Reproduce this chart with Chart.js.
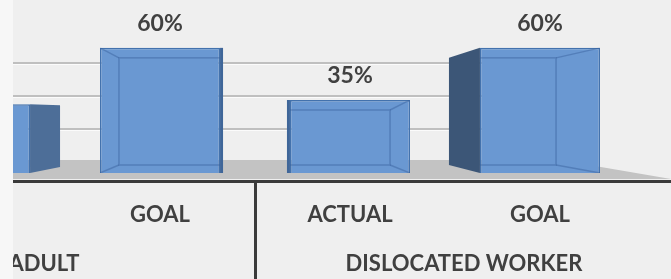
<!DOCTYPE html>
<html>
<head>
<meta charset="utf-8">
<script src="https://cdn.jsdelivr.net/npm/chart.js@4"></script>
<style>
  html, body { margin: 0; padding: 0; background: #efefef; overflow: hidden; }
  body { width: 671px; height: 279px; position: relative; }
  #chart { position: absolute; left: -125px; top: 0; }
  #edge { position: absolute; left: 0; top: 0; width: 13px; height: 279px; background: #f7f7f7; }
</style>
</head>
<body>
<canvas id="chart" width="796" height="279"></canvas>
<div id="edge"></div>
<script>
const categories = ['ACTUAL', 'GOAL', 'ACTUAL', 'GOAL'];
const groups = ['ADULT', 'DISLOCATED WORKER'];
const values = [33, 60, 35, 60];
const wallTicks = [20, 40, 60];

// fake 3d look, per bar
const sideDepth = [30, 3, -3, -31];
const sideTop = [1, 0, 0, 10];
const sideBottom = [6, 0, 0, 8];
const sideColor = ['#4d6e98', '#3f6699', '#3f6699', '#3c5677'];
const innerShift = [0, 19, -20, -44];

const OFFSET = 125; // canvas is shifted left, first bar is cut

const textColor = '#404040';
const fontFamily = 'Lato, "Open Sans", sans-serif';

const wallAndFloor = {
  id: 'wallAndFloor',
  beforeDatasetsDraw(chart) {
    const ctx = chart.ctx;
    const yb = chart.scales.yb;
    const area = chart.chartArea;
    const wallRight = 560 + OFFSET;
    ctx.save();
    wallTicks.forEach(v => {
      const py = Math.round(yb.getPixelForValue(v));
      ctx.fillStyle = '#bfbfbf';
      ctx.fillRect(0, py - 1, wallRight, 2);
      ctx.fillStyle = '#fbfbfb';
      ctx.fillRect(0, py + 1, wallRight, 1);
    });
    // floor
    const back = yb.getPixelForValue(0) - 2;
    const front = area.bottom + 6;
    ctx.fillStyle = '#c3c3c3';
    ctx.beginPath();
    ctx.moveTo(0, back);
    ctx.lineTo(wallRight, back);
    ctx.lineTo(chart.width, front);
    ctx.lineTo(0, front);
    ctx.closePath();
    ctx.fill();
    ctx.restore();
  },
  afterDatasetsDraw(chart) {
    const ctx = chart.ctx;
    const area = chart.chartArea;
    const bars = chart.getDatasetMeta(0).data;
    ctx.save();
    bars.forEach((bar, i) => {
      const left = bar.x - bar.width / 2;
      const right = bar.x + bar.width / 2;
      const top = bar.y;
      const bottom = bar.base;
      const d = sideDepth[i];
      const edge = d > 0 ? right : left;
      ctx.fillStyle = sideColor[i];
      ctx.beginPath();
      ctx.moveTo(edge, top);
      ctx.lineTo(edge + d, top + sideTop[i]);
      ctx.lineTo(edge + d, bottom - sideBottom[i]);
      ctx.lineTo(edge, bottom);
      ctx.closePath();
      ctx.fill();
      // back edges seen through the front face
      const s = innerShift[i];
      if (s !== 0) {
        ctx.save();
        ctx.beginPath();
        ctx.rect(left, top, bar.width, bottom - top);
        ctx.clip();
        ctx.strokeStyle = 'rgba(55, 95, 155, 0.45)';
        ctx.lineWidth = 1.5;
        ctx.strokeRect(left + s, top + 10, bar.width, bottom - top - 18);
        ctx.beginPath();
        const cx = s > 0 ? left : right;
        ctx.moveTo(cx, top);
        ctx.lineTo(cx + s, top + 10);
        ctx.moveTo(cx, bottom);
        ctx.lineTo(cx + s, bottom - 8);
        ctx.stroke();
        ctx.restore();
      }
      // value label
      ctx.fillStyle = textColor;
      ctx.font = 'bold 23px ' + fontFamily;
      ctx.textAlign = 'center';
      ctx.textBaseline = 'alphabetic';
      ctx.fillText(values[i] + '%', bar.x, top - 17);
    });
    // axis line
    const axisY = area.bottom + 8;
    ctx.fillStyle = '#3a3a3a';
    ctx.fillRect(0, axisY - 1, chart.width, 3);
    // divider between groups
    const g = chart.scales.group;
    const divX = Math.round((g.getPixelForValue(0) + g.getPixelForValue(1)) / 2);
    ctx.fillRect(divX - 1, axisY, 3, chart.height - axisY);
    ctx.restore();
  }
};

new Chart(document.getElementById('chart'), {
  type: 'bar',
  data: {
    labels: categories,
    datasets: [{
      data: values,
      backgroundColor: '#6a98d2',
      borderColor: '#4372ad',
      borderWidth: 1.5,
      barPercentage: 0.632,
      categoryPercentage: 1
    }]
  },
  options: {
    responsive: false,
    devicePixelRatio: 1,
    animation: false,
    layout: { padding: { top: 27, left: 0, right: 36, bottom: 0 } },
    plugins: { legend: { display: false }, tooltip: { enabled: false } },
    scales: {
      x: {
        weight: 0,
        grid: { display: false, drawTicks: false },
        border: { display: false },
        ticks: {
          color: textColor, font: { family: fontFamily, size: 22, weight: 'bold' },
          padding: 29, maxRotation: 0, autoSkip: false
        },
        afterFit(s) { s.height = 55; }
      },
      group: {
        type: 'category',
        labels: groups,
        position: 'bottom',
        weight: 1,
        offset: true,
        grid: { display: false, drawTicks: false },
        border: { display: false },
        ticks: {
          color: textColor, font: { family: fontFamily, size: 22, weight: 'bold' },
          padding: 23, maxRotation: 0, autoSkip: false, labelOffset: 19,
          // the cut-off first group label sits further left in the original
          callback: (v, i) => i === 0 ? groups[i] + ' '.repeat(15) : groups[i]
        },
        afterFit(s) { s.height = 51; }
      },
      y: { display: false, min: 0, max: 70 },
      yb: { display: false, min: -6.67, max: 81.8, ticks: { stepSize: 20 } }
    }
  },
  plugins: [wallAndFloor]
});
</script>
</body>
</html>
